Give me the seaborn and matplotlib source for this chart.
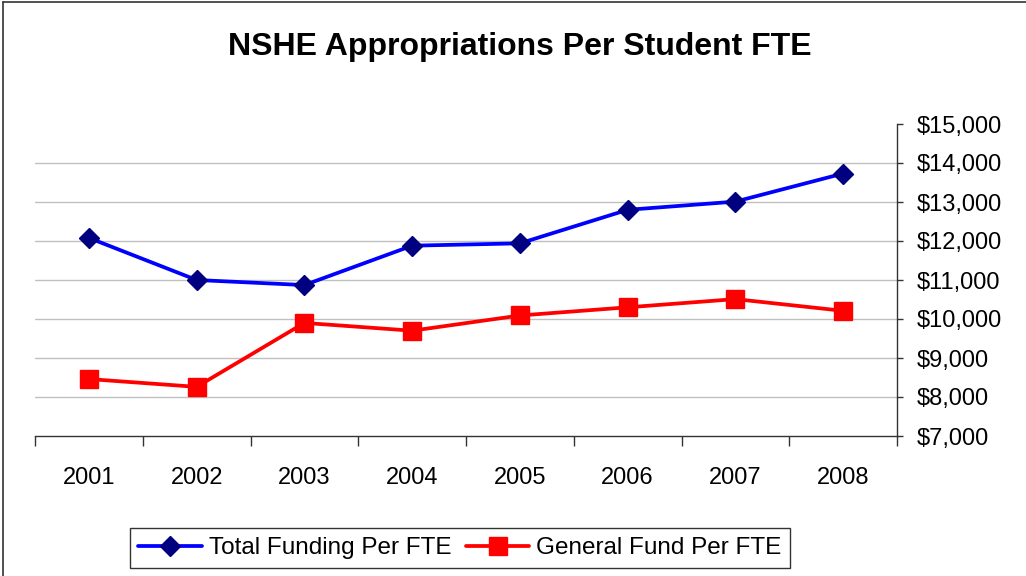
import matplotlib
matplotlib.use("Agg")
import matplotlib.pyplot as plt
import seaborn as sns
import pandas as pd
from matplotlib.ticker import FuncFormatter, FixedLocator
from matplotlib.lines import Line2D

years = ["2001", "2002", "2003", "2004", "2005", "2006", "2007", "2008"]
total_funding = [12080, 11000, 10870, 11880, 11940, 12800, 13010, 13730]
general_fund = [8460, 8260, 9900, 9700, 10090, 10300, 10510, 10210]
series_names = ["Total Funding Per FTE", "General Fund Per FTE"]
y_ticks = [7000, 8000, 9000, 10000, 11000, 12000, 13000, 14000, 15000]

sns.set_theme(style="white")
plt.rcParams['font.family'] = ['Liberation Sans', 'DejaVu Sans']
plt.rcParams['text.color'] = 'black'
plt.rcParams['xtick.color'] = 'black'
plt.rcParams['ytick.color'] = 'black'

df = pd.DataFrame({
    "Year": years * 2,
    "Value": total_funding + general_fund,
    "Series": [series_names[0]] * len(years) + [series_names[1]] * len(years),
})
df["pos"] = list(range(len(years))) * 2

fig = plt.figure(figsize=(10.26, 5.76), dpi=100)
ax = fig.add_axes([35 / 1026, 1 - 436 / 576, (897 - 35) / 1026, (436 - 124) / 576])

sns.lineplot(data=df, x="pos", y="Value", hue="Series", style="Series",
             hue_order=series_names, style_order=series_names,
             palette={series_names[0]: "#0000FF", series_names[1]: "#FF0000"},
             markers={series_names[0]: "D", series_names[1]: "s"},
             dashes=False, linewidth=2.7, ax=ax, legend=False)

lines = ax.get_lines()
lines[0].set_markerfacecolor("#000080")
lines[0].set_markeredgecolor("#000080")
lines[0].set_markersize(10.5)
lines[0].set_markeredgewidth(1)
lines[1].set_markerfacecolor("#FF0000")
lines[1].set_markeredgecolor("#FF0000")
lines[1].set_markersize(13)
lines[1].set_markeredgewidth(1)

ax.set_xlim(-0.5, len(years) - 0.5)
ax.set_ylim(7000, 15000)
ax.set_xlabel("")
ax.set_ylabel("")

for v in y_ticks[1:-1]:
    ax.axhline(v, color="#C0C0C0", lw=1.0, zorder=0)

ax.yaxis.tick_right()
ax.set_yticks(y_ticks)
ax.yaxis.set_major_formatter(FuncFormatter(lambda v, p: "${:,.0f}".format(v)))
ax.tick_params(axis="y", which="major", direction="out", length=4, width=1,
               color="#333333", labelcolor="black", labelsize=17, pad=10,
               right=True, left=False)

ax.set_xticks(range(len(years)))
ax.set_xticklabels(years)
ax.xaxis.set_minor_locator(FixedLocator([i - 0.5 for i in range(len(years) + 1)]))
ax.tick_params(axis="x", which="major", length=0, labelsize=17, pad=22,
               labelcolor="black")
ax.tick_params(axis="x", which="minor", direction="out", length=7, width=1,
               color="#333333", bottom=True)

for s in ["top", "left"]:
    ax.spines[s].set_visible(False)
ax.spines["right"].set_color("#333333")
ax.spines["right"].set_linewidth(1)
ax.spines["bottom"].set_color("#333333")
ax.spines["bottom"].set_linewidth(1)

fig.text(520 / 1026, 1 - 47 / 576, "NSHE Appropriations Per Student FTE",
         ha="center", va="center", fontsize=23, fontweight="bold", color="black")

handles = [
    Line2D([], [], color="#0000FF", lw=2.7, marker="D", markersize=10.5,
           markerfacecolor="#000080", markeredgecolor="#000080"),
    Line2D([], [], color="#FF0000", lw=2.7, marker="s", markersize=13,
           markerfacecolor="#FF0000", markeredgecolor="#FF0000"),
]
leg = fig.legend(handles, series_names, loc="center",
                 bbox_to_anchor=(460 / 1026, 1 - 548 / 576),
                 ncol=2, fontsize=17.5, frameon=True, fancybox=False,
                 edgecolor="#000000", handlelength=2.6, handletextpad=0.3,
                 columnspacing=0.6, borderpad=0.35, borderaxespad=0)
leg.get_frame().set_linewidth(1.0)
for t in leg.get_texts():
    t.set_color("black")

fig.add_artist(Line2D([3 / 1026, 3 / 1026], [0, 1 - 2 / 576], color="#333333",
                      lw=1.2, transform=fig.transFigure))
fig.add_artist(Line2D([3 / 1026, 1], [1 - 2 / 576, 1 - 2 / 576], color="#333333",
                      lw=1.2, transform=fig.transFigure))

fig.savefig("out.png", dpi=100)
